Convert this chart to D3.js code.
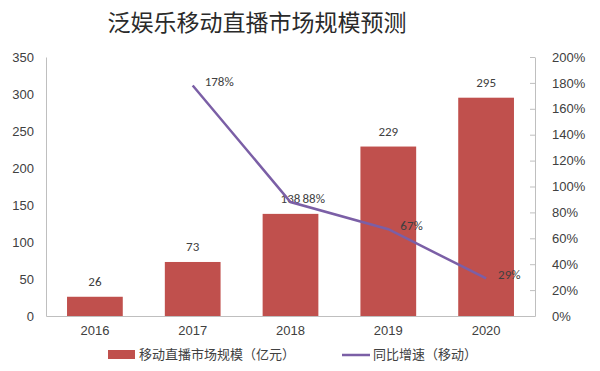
<!DOCTYPE html>
<html><head><meta charset="utf-8">
<script src="https://cdn.jsdelivr.net/npm/d3@7"></script>
<style>body{margin:0;background:#fff;}svg{display:block;font-family:Calibri,"Liberation Sans","Noto Sans CJK SC",sans-serif;}</style>
</head><body><svg id="c" width="600" height="371"></svg>
<script>
const years = ["2016","2017","2018","2019","2020"];
const marketSize = [26, 73, 138, 229, 295];
const growthYears = ["2017","2018","2019","2020"];
const growthRate = [178, 88, 67, 29];
const leftTicks = [0,50,100,150,200,250,300,350];
const rightTicks = [0,20,40,60,80,100,120,140,160,180,200];

const svg = d3.select("#c");
const m = {l:46, r:535, t:57, b:316};
const x = d3.scaleBand().domain(years).range([m.l, m.r]).paddingInner(0.43).paddingOuter(0.215);
const xc = d => x(d) + x.bandwidth()/2;
const yL = d3.scaleLinear().domain([0,350]).range([m.b, m.t]);
const yR = d3.scaleLinear().domain([0,200]).range([m.b, m.t]);
const txt = "#404040";
const cjk = "'Noto Sans CJK SC',sans-serif";

svg.append("text").attr("x",257).attr("y",31).attr("text-anchor","middle")
  .attr("font-family",cjk).attr("font-size",23).attr("fill","#2a2a2a").text("泛娱乐移动直播市场规模预测");

// left axis
const gl = svg.append("g").attr("transform",`translate(${m.l},0)`)
  .call(d3.axisLeft(yL).tickValues(leftTicks).tickSize(0).tickPadding(12));
gl.select(".domain").attr("stroke","#bfbfbf");
gl.selectAll("text").attr("font-size",13).attr("fill",txt);

// right axis
const gr = svg.append("g").attr("transform",`translate(${m.r},0)`)
  .call(d3.axisRight(yR).tickValues(rightTicks).tickSize(5).tickPadding(12).tickFormat(d=>d+"%").tickSizeOuter(0));
gr.select(".domain").attr("stroke","#bfbfbf");
gr.selectAll("line").attr("stroke","#bfbfbf").attr("x2",-5);
gr.selectAll("text").attr("font-size",13).attr("fill",txt).attr("x",17);

// bottom axis
const gb = svg.append("g").attr("transform",`translate(0,${m.b})`)
  .call(d3.axisBottom(x).tickSize(0).tickPadding(10));
gb.select(".domain").attr("stroke","#bfbfbf");
gb.selectAll("text").attr("font-size",13).attr("fill",txt);

// bars
svg.selectAll("rect.bar").data(marketSize).join("rect").attr("class","bar")
  .attr("x",(d,i)=>x(years[i])).attr("width",x.bandwidth())
  .attr("y",d=>yL(d)).attr("height",d=>m.b-yL(d)).attr("fill","#C0504D");
svg.selectAll("text.bl").data(marketSize).join("text").attr("class","bl")
  .attr("x",(d,i)=>xc(years[i])).attr("y",d=>yL(d)-11).attr("text-anchor","middle")
  .attr("font-size",13).attr("fill",txt).text(d=>d);

// line
const line = d3.line().x((d,i)=>xc(growthYears[i])).y(d=>yR(d));
svg.append("path").datum(growthRate).attr("d",line).attr("fill","none")
  .attr("stroke","#7B5FA6").attr("stroke-width",2.5);
svg.selectAll("text.ll").data(growthRate).join("text").attr("class","ll")
  .attr("x",(d,i)=>xc(growthYears[i])+12).attr("y",d=>yR(d)+1)
  .attr("font-size",13).attr("fill",txt).text(d=>d+"%");

// legend
const lg = svg.append("g");
lg.append("rect").attr("x",108).attr("y",350).attr("width",27).attr("height",9).attr("fill","#C0504D");
lg.append("text").attr("x",139).attr("y",359).attr("font-family",cjk).attr("font-size",13).attr("fill",txt).text("移动直播市场规模（亿元）");
lg.append("line").attr("x1",342).attr("x2",370).attr("y1",355).attr("y2",355).attr("stroke","#7B5FA6").attr("stroke-width",2.5);
lg.append("text").attr("x",373).attr("y",359).attr("font-family",cjk).attr("font-size",13).attr("fill",txt).text("同比增速（移动）");
</script></body></html>
